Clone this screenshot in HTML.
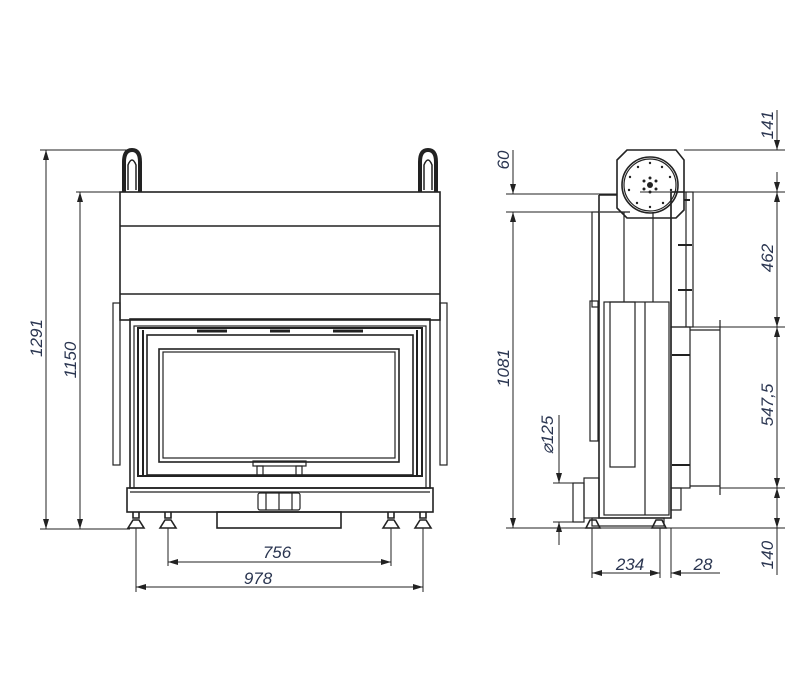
<!DOCTYPE html>
<html><head><meta charset="utf-8"><style>
html,body{margin:0;padding:0;background:#fff}
svg{display:block}
text{font-family:"Liberation Sans",sans-serif;font-style:italic;font-size:17px;fill:#2a3550}
</style></head><body>
<svg width="800" height="700" viewBox="0 0 800 700" xmlns="http://www.w3.org/2000/svg">
<defs>
<marker id="a" viewBox="0 0 10 6" refX="10" refY="3" markerWidth="10" markerHeight="6" orient="auto-start-reverse" markerUnits="userSpaceOnUse"><path d="M0,0L10,3L0,6z" fill="#222"/></marker>
</defs>
<g stroke="#222" fill="none" stroke-width="1.2">
<!-- FRONT VIEW -->
<path d="M124,192 V162 Q124,150 132,150 Q140,150 140,162 V192" stroke-width="4"/>
<path d="M128,190 V165 Q132,155 136,165 V190" stroke-width="1.5"/>
<path d="M420,192 V162 Q420,150 428,150 Q436,150 436,162 V192" stroke-width="4"/>
<path d="M424,190 V165 Q428,155 432,165 V190" stroke-width="1.5"/>
<rect x="120" y="192" width="320" height="128" stroke-width="1.6"/>
<line x1="120" y1="226" x2="440" y2="226" stroke-width="1.6"/>
<line x1="120" y1="294" x2="440" y2="294" stroke-width="1.6"/>
<rect x="113" y="303" width="7" height="162"/>
<rect x="440" y="303" width="7" height="162"/>
<rect x="130" y="319" width="300" height="169" stroke-width="1.6"/>
<rect x="134" y="326" width="292" height="162"/>
<rect x="138" y="328" width="284" height="148" stroke-width="2"/>
<line x1="143" y1="330" x2="143" y2="476" stroke-width="2"/>
<line x1="417" y1="330" x2="417" y2="476" stroke-width="2"/>
<rect x="147" y="335" width="266" height="140" stroke-width="1.6"/>
<rect x="159" y="349" width="240" height="113" stroke-width="1.6"/>
<rect x="163" y="352" width="232" height="106"/>
<path d="M197,331 h30 M270,331 h20 M333,331 h30" stroke-width="3"/>
<rect x="253" y="461" width="53" height="5"/>
<rect x="257" y="466" width="6" height="10"/>
<rect x="296" y="466" width="6" height="10"/>
<rect x="127" y="488" width="306" height="24" stroke-width="1.6"/>
<line x1="130" y1="492" x2="430" y2="492"/>
<rect x="258" y="493" width="42" height="17" rx="2"/>
<line x1="266" y1="493" x2="266" y2="510"/><line x1="279" y1="493" x2="279" y2="510"/><line x1="292" y1="493" x2="292" y2="510"/>
<rect x="217" y="512" width="124" height="16" stroke-width="1.6"/>
<g stroke-width="1.6">
<path d="M133,512 v6 h6 v-6 M128,528 l5,-8 h6 l5,8 z"/>
<path d="M165,512 v6 h6 v-6 M160,528 l5,-8 h6 l5,8 z"/>
<path d="M388,512 v6 h6 v-6 M383,528 l5,-8 h6 l5,8 z"/>
<path d="M420,512 v6 h6 v-6 M415,528 l5,-8 h6 l5,8 z"/>
</g>
<g stroke-width="1">
<line x1="40" y1="150" x2="128" y2="150"/>
<line x1="76" y1="192" x2="120" y2="192"/>
<line x1="40" y1="529" x2="130" y2="529"/>
<line x1="46" y1="150" x2="46" y2="529" marker-start="url(#a)" marker-end="url(#a)"/>
<line x1="80" y1="192" x2="80" y2="529" marker-start="url(#a)" marker-end="url(#a)"/>
<line x1="136" y1="528" x2="136" y2="592"/>
<line x1="423" y1="528" x2="423" y2="592"/>
<line x1="168" y1="528" x2="168" y2="566"/>
<line x1="391" y1="528" x2="391" y2="566"/>
<line x1="168" y1="562" x2="391" y2="562" marker-start="url(#a)" marker-end="url(#a)"/>
<line x1="136" y1="587" x2="423" y2="587" marker-start="url(#a)" marker-end="url(#a)"/>
</g>

<!-- SIDE VIEW -->
<path d="M627,150 H676 L684,160 V210 L676,218 H627 L617,208 V160 Z" stroke-width="1.6"/>
<circle cx="650" cy="185" r="28" stroke-width="1.6"/>
<circle cx="650" cy="185" r="26"/>
<g fill="#222" stroke="none">
<circle cx="650" cy="185" r="3"/>
<circle cx="650" cy="178" r="1.5"/><circle cx="656" cy="181" r="1.5"/><circle cx="656" cy="189" r="1.5"/><circle cx="650" cy="192" r="1.5"/><circle cx="644" cy="189" r="1.5"/><circle cx="644" cy="181" r="1.5"/>
<circle cx="650" cy="163" r="1.2"/><circle cx="662" cy="167" r="1.2"/><circle cx="670" cy="177" r="1.2"/><circle cx="671" cy="190" r="1.2"/><circle cx="663" cy="203" r="1.2"/><circle cx="650" cy="207" r="1.2"/><circle cx="637" cy="203" r="1.2"/><circle cx="629" cy="190" r="1.2"/><circle cx="630" cy="177" r="1.2"/><circle cx="638" cy="167" r="1.2"/>
</g>
<path d="M599,195 H617 M599,195 V518 H671 V192 H684" stroke-width="1.6"/>
<line x1="624" y1="212" x2="624" y2="302"/>
<line x1="653" y1="212" x2="653" y2="302"/>
<line x1="600" y1="212" x2="630" y2="212"/>
<rect x="592" y="212" width="7" height="95"/>
<rect x="590" y="301" width="8" height="140"/>
<rect x="604" y="302" width="65" height="213"/>
<rect x="610" y="302" width="25" height="165"/>
<line x1="645" y1="302" x2="645" y2="515"/>
<rect x="671" y="192" width="22" height="135"/>
<line x1="686" y1="192" x2="686" y2="327"/>
<rect x="671" y="327" width="19" height="161"/>
<path d="M690,330 H720 M690,486 H720 M720,320 V495"/>
<path d="M684,200 l6,0 M678,245 h14 M678,290 h14 M672,355 h18 M672,465 h18" stroke-width="2"/>
<rect x="584" y="478" width="15" height="40"/>
<rect x="573" y="483" width="11" height="39"/>
<rect x="671" y="488" width="10" height="22"/>
<rect x="592" y="518" width="72" height="8"/>
<path d="M586,528 l4,-8 h6 l4,8 z M652,528 l4,-8 h6 l4,8 z" stroke-width="1.6"/>
<g stroke-width="1">
<line x1="684" y1="150" x2="785" y2="150"/>
<line x1="640" y1="192" x2="785" y2="192"/>
<line x1="690" y1="327" x2="785" y2="327"/>
<line x1="720" y1="488" x2="785" y2="488"/>
<line x1="506" y1="528" x2="785" y2="528"/>
<line x1="777" y1="110" x2="777" y2="150" marker-end="url(#a)"/>
<line x1="777" y1="192" x2="777" y2="172" marker-start="url(#a)"/>
<line x1="777" y1="192" x2="777" y2="327" marker-start="url(#a)" marker-end="url(#a)"/>
<line x1="777" y1="327" x2="777" y2="488" marker-start="url(#a)" marker-end="url(#a)"/>
<line x1="777" y1="488" x2="777" y2="528" marker-start="url(#a)" marker-end="url(#a)"/>
<line x1="777" y1="528" x2="777" y2="575"/>
<line x1="506" y1="194" x2="617" y2="194"/>
<line x1="506" y1="212" x2="599" y2="212"/>
<line x1="513" y1="150" x2="513" y2="194" marker-end="url(#a)"/>
<line x1="513" y1="212" x2="513" y2="528" marker-start="url(#a)" marker-end="url(#a)"/>
<line x1="553" y1="483" x2="573" y2="483"/>
<line x1="553" y1="522" x2="573" y2="522"/>
<line x1="559" y1="415" x2="559" y2="483" marker-end="url(#a)"/>
<line x1="559" y1="522" x2="559" y2="545" marker-start="url(#a)"/>
<line x1="592" y1="528" x2="592" y2="578"/>
<line x1="660" y1="528" x2="660" y2="578"/>
<line x1="671" y1="528" x2="671" y2="578"/>
<line x1="592" y1="573" x2="660" y2="573" marker-start="url(#a)" marker-end="url(#a)"/>
<line x1="671" y1="573" x2="720" y2="573" marker-start="url(#a)"/>
</g>
</g>
<text x="277" y="558" text-anchor="middle">756</text>
<text x="258" y="584" text-anchor="middle">978</text>
<text transform="translate(42,338) rotate(-90)" text-anchor="middle">1291</text>
<text transform="translate(76,360) rotate(-90)" text-anchor="middle">1150</text>
<text transform="translate(509,160) rotate(-90)" text-anchor="middle">60</text>
<text transform="translate(509,368) rotate(-90)" text-anchor="middle">1081</text>
<text transform="translate(553,435) rotate(-90)" text-anchor="middle">⌀125</text>
<text transform="translate(773,125) rotate(-90)" text-anchor="middle">141</text>
<text transform="translate(773,258) rotate(-90)" text-anchor="middle">462</text>
<text transform="translate(773,405) rotate(-90)" text-anchor="middle">547,5</text>
<text transform="translate(773,555) rotate(-90)" text-anchor="middle">140</text>
<text x="630" y="570" text-anchor="middle">234</text>
<text x="703" y="570" text-anchor="middle">28</text>
</svg>
</body></html>
